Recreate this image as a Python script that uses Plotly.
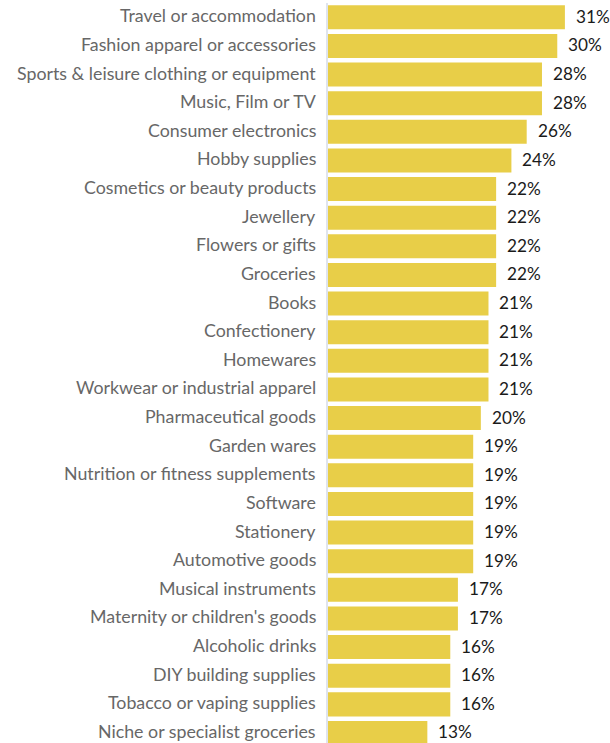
import plotly.graph_objects as go

categories = [
    "Travel or accommodation",
    "Fashion apparel or accessories",
    "Sports & leisure clothing or equipment",
    "Music, Film or TV",
    "Consumer electronics",
    "Hobby supplies",
    "Cosmetics or beauty products",
    "Jewellery",
    "Flowers or gifts",
    "Groceries",
    "Books",
    "Confectionery",
    "Homewares",
    "Workwear or industrial apparel",
    "Pharmaceutical goods",
    "Garden wares",
    "Nutrition or fitness supplements",
    "Software",
    "Stationery",
    "Automotive goods",
    "Musical instruments",
    "Maternity or children's goods",
    "Alcoholic drinks",
    "DIY building supplies",
    "Tobacco or vaping supplies",
    "Niche or specialist groceries",
]
values = [31, 30, 28, 28, 26, 24, 22, 22, 22, 22, 21, 21, 21, 21, 20,
          19, 19, 19, 19, 19, 17, 17, 16, 16, 16, 13]

BAR_COLOR = "#E8CE48"
FONT = "Lato"

fig = go.Figure(
    go.Bar(
        x=values,
        y=categories,
        orientation="h",
        marker=dict(color=BAR_COLOR, line=dict(width=0)),
        width=0.84,
        hoverinfo="skip",
    )
)

for cat, val in zip(categories, values):
    # category name, right-aligned against the axis line
    fig.add_annotation(
        x=0, xref="paper", y=cat, text=cat, showarrow=False,
        xanchor="right", yanchor="middle", xshift=-10, yshift=2,
        font=dict(family=FONT, size=17.8, color="#676767"),
    )
    # value label just past the end of the bar
    fig.add_annotation(
        x=val, y=cat, text=f"{val}%", showarrow=False,
        xanchor="left", yanchor="middle", xshift=9, yshift=1,
        font=dict(family=FONT, size=17.2, color="#1a1a1a"),
    )

fig.update_layout(
    width=610,
    height=743,
    margin=dict(l=328, r=0, t=3, b=0, autoexpand=False),
    paper_bgcolor="white",
    plot_bgcolor="white",
    showlegend=False,
    font=dict(family=FONT, size=17.8, color="#676767"),
    xaxis=dict(
        range=[0, 36.9], visible=False, showgrid=False, zeroline=False,
    ),
    yaxis=dict(
        type="category",
        categoryorder="array",
        categoryarray=categories,
        range=[25.35, -0.5],
        showgrid=False,
        zeroline=False,
        showline=True,
        linecolor="#dfe4ee",
        linewidth=2,
        ticks="",
        showticklabels=False,
        automargin=False,
    ),
)

fig.write_html("out.html")
